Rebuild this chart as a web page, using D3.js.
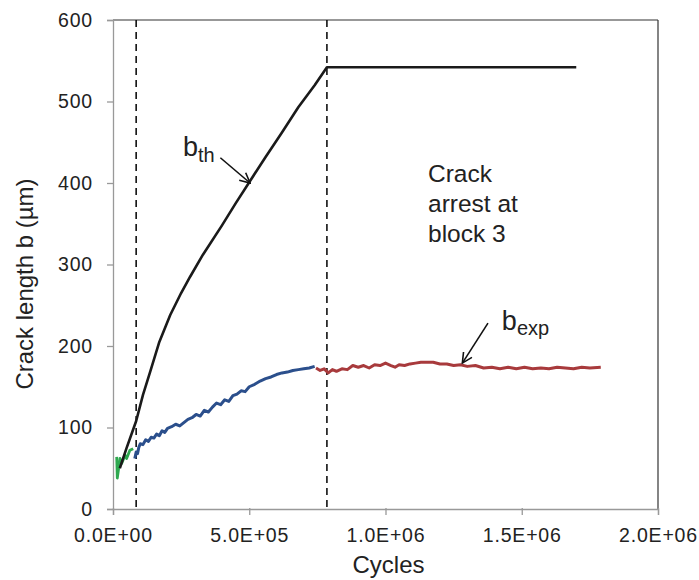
<!DOCTYPE html>
<html>
<head>
<meta charset="utf-8">
<script src="https://cdn.jsdelivr.net/npm/d3@7"></script>
<style>
  body { margin: 0; background: #fff; }
  svg { font-family: "Liberation Sans", Arial, sans-serif; }
</style>
</head>
<body>
<script>
// theoretical crack length (cycles, um)
const thCycles = [25000, 50000, 85000, 110000, 136000, 170000, 210000, 250000, 283000, 330000, 400000, 450000, 500000, 560000, 620000, 680000, 740000, 785000, 1700000];
const thLength = [50, 75, 108, 140, 168, 205, 238, 265, 285, 312, 348, 375, 401, 432, 462, 493, 520, 542, 542];

// experimental, block 1 (green)
const g1Cycles = [13600, 15800, 25700, 31800, 44000, 50000, 62000, 74000];
const g1Length = [64, 38, 62, 56, 66, 62, 72, 74];

// experimental, block 2 (blue)
const b2Cycles = [80000, 85000, 90000, 95000, 100000, 110000, 120000, 130000, 140000, 150000, 160000, 170000, 180000, 190000, 200000, 215000, 230000, 245000, 260000, 275000, 290000, 305000, 320000, 335000, 350000, 365000, 380000, 395000, 410000, 425000, 440000, 455000, 470000, 485000, 500000, 520000, 540000, 560000, 580000, 600000, 620000, 640000, 660000, 680000, 700000, 720000, 740000];
const b2Length = [62, 70, 68, 76, 80, 79, 85, 83, 88, 87, 92, 90, 96, 94, 99, 101, 104, 102, 106, 110, 112, 116, 114, 121, 119, 125, 130, 128, 134, 132, 139, 141, 145, 144, 150, 153, 157, 160, 162, 165, 167, 168, 170, 171, 172, 173, 175];

// experimental, block 3 (red)
const r3Cycles = [745000, 760000, 775000, 790000, 805000, 820000, 840000, 860000, 880000, 900000, 920000, 940000, 960000, 980000, 1000000, 1020000, 1035000, 1050000, 1070000, 1090000, 1110000, 1130000, 1150000, 1175000, 1200000, 1225000, 1250000, 1275000, 1300000, 1330000, 1360000, 1390000, 1420000, 1450000, 1480000, 1510000, 1540000, 1570000, 1600000, 1630000, 1660000, 1690000, 1720000, 1750000, 1790000];
const r3Length = [173, 170, 172, 167, 171, 169, 172, 171, 176, 174, 176, 173, 177, 176, 179, 176, 174, 177, 176, 178, 179, 180, 180, 180, 178, 178, 176, 177, 175, 176, 173, 174, 172, 174, 172, 174, 172, 173, 172, 174, 173, 172, 174, 173, 174];

const blockLimits = [85000, 785000];

const xTicks = [0, 500000, 1000000, 1500000, 2000000];
const xTickLabels = ["0.0E+00", "5.0E+05", "1.0E+06", "1.5E+06", "2.0E+06"];
const yTicks = [0, 100, 200, 300, 400, 500, 600];

const width = 699, height = 580;
const margin = {top: 20, right: 41, bottom: 71, left: 113};

const svg = d3.select("body").append("svg")
    .attr("width", width)
    .attr("height", height);

const x = d3.scaleLinear().domain([0, 2000000]).range([margin.left, width - margin.right]);
const y = d3.scaleLinear().domain([0, 600]).range([height - margin.bottom, margin.top]);

// frame: top and right dark, axes gray
svg.append("line")
    .attr("x1", x(0)).attr("x2", x(2000000))
    .attr("y1", y(600)).attr("y2", y(600))
    .attr("stroke", "#333").attr("stroke-width", 1.2);
svg.append("line")
    .attr("x1", x(2000000)).attr("x2", x(2000000))
    .attr("y1", y(600)).attr("y2", y(0))
    .attr("stroke", "#333").attr("stroke-width", 1.2);

const xAxis = svg.append("g")
    .attr("transform", `translate(0,${y(0)})`)
    .call(d3.axisBottom(x).tickValues(xTicks).tickFormat((d, i) => xTickLabels[i]).tickSize(6).tickPadding(8));
const yAxis = svg.append("g")
    .attr("transform", `translate(${x(0)},0)`)
    .call(d3.axisLeft(y).tickValues(yTicks).tickSize(6).tickPadding(14));

[xAxis, yAxis].forEach(a => {
  a.select(".domain").attr("stroke", "#999").attr("stroke-width", 1.3);
  a.selectAll(".tick line").attr("stroke", "#999").attr("stroke-width", 1.3);
  a.selectAll(".tick text")
      .attr("fill", "#222")
      .style("font-size", "19.5px")
      .style("letter-spacing", "0.8px")
      .style("font-family", "Liberation Sans, Arial, sans-serif");
});
xAxis.selectAll(".tick text").attr("dy", "0.95em");
xAxis.selectAll(".tick line").attr("y1", -1);

// block boundaries
svg.append("g")
  .selectAll("line")
  .data(blockLimits)
  .join("line")
    .attr("x1", d => x(d)).attr("x2", d => x(d))
    .attr("y1", y(600)).attr("y2", y(0))
    .attr("stroke", "#111")
    .attr("stroke-width", 1.6)
    .attr("stroke-dasharray", "7,5");

const line = d3.line().x(d => x(d[0])).y(d => y(d[1]));

const series = [
  {cycles: g1Cycles, length: g1Length, color: "#2ea84f", w: 2.8},
  {cycles: b2Cycles, length: b2Length, color: "#2b4f8c", w: 3},
  {cycles: r3Cycles, length: r3Length, color: "#a83a3c", w: 3},
  {cycles: thCycles, length: thLength, color: "#1a1a1a", w: 2.6}
];

svg.append("g")
  .selectAll("path")
  .data(series)
  .join("path")
    .attr("fill", "none")
    .attr("stroke", d => d.color)
    .attr("stroke-width", d => d.w)
    .attr("stroke-linejoin", "round")
    .attr("d", d => line(d.cycles.map((c, i) => [c, d.length[i]])));

// arrow marker
svg.append("defs").append("marker")
    .attr("id", "arrow")
    .attr("viewBox", "0 0 12 12")
    .attr("refX", 11).attr("refY", 6)
    .attr("markerWidth", 12).attr("markerHeight", 12)
    .attr("markerUnits", "userSpaceOnUse")
    .attr("orient", "auto")
  .append("path")
    .attr("d", "M1,1 L11,6 L1,11")
    .attr("fill", "none")
    .attr("stroke", "#111")
    .attr("stroke-width", 1.6);

// b_th label and arrow
const bth = svg.append("text")
    .attr("x", x(257000)).attr("y", y(433))
    .attr("fill", "#222")
    .style("font-size", "27px");
bth.append("tspan").text("b");
bth.append("tspan").attr("dy", 6).style("font-size", "20px").text("th");
svg.append("line")
    .attr("x1", x(394000)).attr("y1", y(431))
    .attr("x2", x(503000)).attr("y2", y(400))
    .attr("stroke", "#111").attr("stroke-width", 1.6)
    .attr("marker-end", "url(#arrow)");

// b_exp label and arrow
const bexp = svg.append("text")
    .attr("x", x(1427000)).attr("y", y(220))
    .attr("fill", "#222")
    .style("font-size", "27px");
bexp.append("tspan").text("b");
bexp.append("tspan").attr("dy", 5).style("font-size", "20px").text("exp");
svg.append("line")
    .attr("x1", x(1376000)).attr("y1", y(228))
    .attr("x2", x(1282000)).attr("y2", y(179))
    .attr("stroke", "#111").attr("stroke-width", 1.6)
    .attr("marker-end", "url(#arrow)");

// arrest note
svg.append("text")
    .attr("x", x(1156000)).attr("y", y(401))
    .attr("fill", "#222")
    .style("font-size", "24.5px")
  .selectAll("tspan")
  .data(["Crack", "arrest at", "block 3"])
  .join("tspan")
    .attr("x", x(1156000))
    .attr("dy", (d, i) => i ? 30 : 0)
    .text(d => d);

// axis titles
svg.append("text")
    .attr("x", x(1000000) + 3).attr("y", 573)
    .attr("text-anchor", "middle")
    .attr("fill", "#222")
    .style("font-size", "24px")
    .text("Cycles");
svg.append("text")
    .attr("transform", `translate(33,${284}) rotate(-90)`)
    .attr("text-anchor", "middle")
    .attr("fill", "#222")
    .style("font-size", "24px")
    .text("Crack length b (µm)");
</script>
</body>
</html>
